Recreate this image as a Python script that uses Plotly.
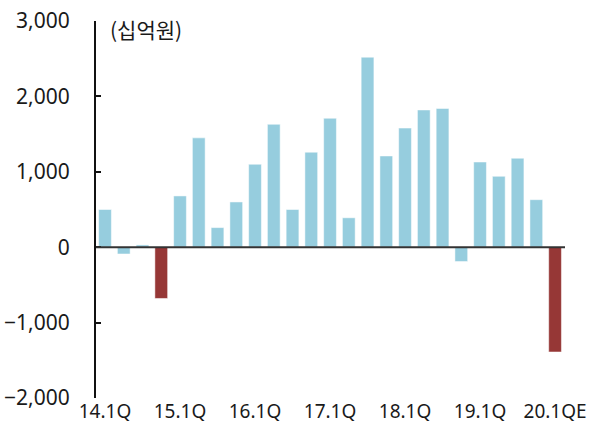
import plotly.graph_objects as go

quarters = ["14.1Q", "14.2Q", "14.3Q", "14.4Q",
            "15.1Q", "15.2Q", "15.3Q", "15.4Q",
            "16.1Q", "16.2Q", "16.3Q", "16.4Q",
            "17.1Q", "17.2Q", "17.3Q", "17.4Q",
            "18.1Q", "18.2Q", "18.3Q", "18.4Q",
            "19.1Q", "19.2Q", "19.3Q", "19.4Q",
            "20.1QE"]
values = [500, -90, 30, -680,
          680, 1450, 260, 600,
          1100, 1630, 500, 1260,
          1710, 390, 2520, 1210,
          1580, 1820, 1840, -190,
          1130, 940, 1180, 630,
          -1390]
highlight = ["14.4Q", "20.1QE"]
y_ticks = [-2000, -1000, 0, 1000, 2000, 3000]
unit_label = "(십억원)"

BLUE = "#96CDDE"
RED = "#963736"

x_idx = list(range(len(quarters)))
colors = [RED if q in highlight else BLUE for q in quarters]
tick_pos = [i for i, q in enumerate(quarters) if ".1Q" in q]
tick_txt = [quarters[i] for i in tick_pos]

fig = go.Figure()
fig.add_trace(go.Bar(
    x=x_idx, y=values,
    marker=dict(color=colors, line=dict(color="rgba(255,255,255,0.5)", width=1)),
    width=0.68,
    hovertext=quarters,
))

# baseline (zero line) drawn above the bars
fig.add_hline(y=0, line=dict(color="#333333", width=2), layer="above")

fig.update_layout(
    width=590, height=434,
    margin=dict(l=96, r=25, t=21, b=36),
    paper_bgcolor="white", plot_bgcolor="white",
    showlegend=False,
    font=dict(family="Noto Sans", size=18, color="#1a1a1a"),
    xaxis=dict(
        range=[-0.48, 24.53],
        tickvals=tick_pos, ticktext=tick_txt,
        showgrid=False, zeroline=False, showline=False,
        ticks="", tickfont=dict(size=19),
        automargin=False, ticklabeloverflow="allow",
    ),
    yaxis=dict(
        range=[-2000, 3000],
        tickvals=y_ticks,
        tickformat=",",
        showgrid=False,
        zeroline=False,
        showline=True, linecolor="#111111", linewidth=2,
        ticks="inside", ticklen=5, tickwidth=2, tickcolor="#111111",
        ticklabelstandoff=20,
        tickfont=dict(size=21),
        automargin=False, ticklabeloverflow="allow",
        layer="above traces",
    ),
    annotations=[dict(
        text=unit_label, xref="paper", yref="paper",
        x=0.025, y=0.979, xanchor="left", yanchor="middle",
        showarrow=False,
        font=dict(family="Noto Sans CJK KR", size=21, color="#1a1a1a"),
    )],
)

fig.write_html("out.html", config={"displayModeBar": False},
               post_script="document.body.style.margin='0';")
